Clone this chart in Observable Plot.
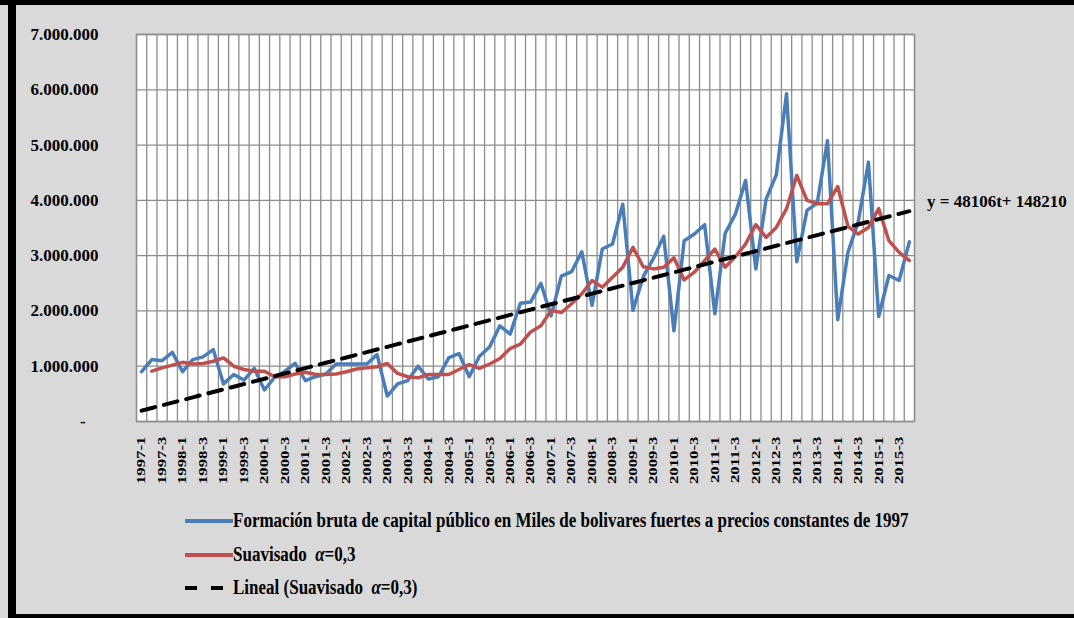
<!DOCTYPE html>
<html>
<head>
<meta charset="utf-8">
<script src="https://cdn.jsdelivr.net/npm/d3@7"></script>
<script src="https://cdn.jsdelivr.net/npm/@observablehq/plot@0.6"></script>
<style>
  body { margin: 0; background: #d9d9d9; }
  #wrap { position: relative; width: 1074px; height: 618px; overflow: hidden; background: #d9d9d9;
          font-family: "Liberation Serif", "Times New Roman", serif; font-weight: bold; color: #000; }
  #chart { position: absolute; left: 0; top: 0; }
  .bar { position: absolute; background: #000; }
  .leg { position: absolute; left: 185px; height: 20px; display: flex; align-items: center; white-space: pre; }
  .leg svg { flex: none; }
  .leg span { font-size: 17px; display: inline-block; white-space: pre; transform: scaleY(1.25); transform-origin: 50% 50%; }
  #eq { position: absolute; left: 927px; top: 192px; font-size: 17px; line-height: 20px; white-space: pre; }
</style>
</head>
<body>
<div id="wrap">
  <div id="chart"></div>
  <div class="leg" style="top:511px"><svg width="48" height="8"><line x1="0" y1="4" x2="48" y2="4" stroke="#4a7ebb" stroke-width="4"/></svg><span id="l1"></span></div>
  <div class="leg" style="top:545px"><svg width="48" height="8"><line x1="0" y1="4" x2="48" y2="4" stroke="#c0504d" stroke-width="4"/></svg><span id="l2"></span></div>
  <div class="leg" style="top:578px"><svg width="48" height="8"><line x1="0" y1="4" x2="48" y2="4" stroke="#000" stroke-width="4" stroke-dasharray="12,14"/></svg><span id="l3"></span></div>
  <div id="eq"></div>
  <div class="bar" style="left:0;top:0;width:1074px;height:5px"></div>
  <div class="bar" style="left:8px;top:0;width:8px;height:618px"></div>
  <div class="bar" style="left:8px;top:614px;width:1066px;height:4px"></div>
</div>
<script>
// Categories: quarters 1997-1 .. 2015-4
const years = d3.range(1997, 2016);
const quarters = years.flatMap(y => [1, 2, 3, 4].map(q => `${y}-${q}`));

// Formación bruta de capital público (millones de Bs.F. de 1997)
const formacion = [
  0.90, 1.12, 1.10, 1.25, 0.90, 1.12, 1.17, 1.30, 0.68, 0.85,
  0.75, 0.96, 0.57, 0.80, 0.91, 1.05, 0.74, 0.81, 0.86, 1.04,
  1.04, 1.04, 1.04, 1.21, 0.46, 0.68, 0.74, 1.00, 0.77, 0.81,
  1.15, 1.23, 0.81, 1.18, 1.35, 1.73, 1.58, 2.14, 2.16, 2.50,
  1.91, 2.63, 2.71, 3.07, 2.10, 3.12, 3.21, 3.93, 2.01, 2.62,
  2.95, 3.35, 1.64, 3.27, 3.39, 3.56, 1.95, 3.40, 3.75, 4.36,
  2.76, 4.02, 4.46, 5.93, 2.89, 3.82, 3.95, 5.08, 1.84, 3.06,
  3.61, 4.69, 1.90, 2.64, 2.55, 3.25
];

// Suavisado α=0,3 (millones)
const suavisado = [
  null, 0.91, 0.97, 1.02, 1.07, 1.04, 1.05, 1.09, 1.15, 1.00,
  0.94, 0.91, 0.91, 0.81, 0.81, 0.86, 0.89, 0.85, 0.85, 0.86,
  0.90, 0.95, 0.97, 0.99, 1.05, 0.87, 0.81, 0.79, 0.85, 0.85,
  0.85, 0.94, 1.03, 0.96, 1.04, 1.14, 1.32, 1.40, 1.62, 1.73,
  2.01, 1.97, 2.13, 2.31, 2.55, 2.43, 2.61, 2.79, 3.15, 2.80,
  2.76, 2.79, 2.96, 2.56, 2.70, 2.91, 3.12, 2.79, 2.98, 3.21,
  3.56, 3.33, 3.51, 3.85, 4.45, 4.00, 3.94, 3.94, 4.25, 3.53,
  3.39, 3.51, 3.85, 3.27, 3.06, 2.91
];

// Linear trend y = 48106t + 148210
const trendSlope = 48106;
const trendIntercept = 148210;

const yTicks = [0, 1e6, 2e6, 3e6, 4e6, 5e6, 6e6, 7e6];
const yTickLabels = ["-\u00a0\u00a0\u00a0", "1.000.000", "2.000.000", "3.000.000", "4.000.000", "5.000.000", "6.000.000", "7.000.000"];
const xTickIdx = d3.range(0, quarters.length, 2);

const legendLabels = [
  "Formación bruta de capital público en Miles de bolivares fuertes a precios constantes de 1997",
  "Suavisado  <i>α</i>=0,3",
  "Lineal (Suavisado  <i>α</i>=0,3)"
];
const equationLabel = "y = 48106t+ 148210";

const rows = quarters.map((q, i) => ({
  i, q,
  f: formacion[i] * 1e6,
  s: suavisado[i] == null ? null : suavisado[i] * 1e6,
  t: trendSlope * (i + 1) + trendIntercept
}));

const grid = "#8c8c8c";
const plot = Plot.plot({
  width: 1074, height: 500,
  marginLeft: 136, marginRight: 160, marginTop: 34, marginBottom: 79,
  style: { background: "transparent", fontFamily: "'Liberation Serif', serif", fontWeight: "bold", color: "#000", overflow: "visible" },
  x: { type: "linear", domain: [-0.5, quarters.length - 0.5] },
  y: { domain: [0, 7e6] },
  marks: [
    Plot.frame({ fill: "white", stroke: "none" }),
    Plot.ruleY(yTicks, { stroke: grid, strokeWidth: 1.3 }),
    Plot.ruleX(d3.range(quarters.length + 1).map(k => k - 0.5), { stroke: grid, strokeWidth: 1.3 }),
    Plot.frame({ stroke: grid, strokeWidth: 1.3 }),
    Plot.axisY({ ticks: yTicks, tickFormat: d => yTickLabels[yTicks.indexOf(d)], tickSize: 0, tickPadding: 38, fontSize: 17, fontWeight: "bold", label: null }),
    Plot.axisX({ ticks: xTickIdx, tickFormat: d => quarters[d], tickSize: 0, tickRotate: -90, tickPadding: 15, fontSize: 12, fontWeight: "bold", label: null }),
    Plot.line(rows, { x: "i", y: "f", stroke: "#4a7ebb", strokeWidth: 3.5 }),
    Plot.line(rows.filter(d => d.s != null), { x: "i", y: "s", stroke: "#c0504d", strokeWidth: 3.5 }),
    Plot.line(rows, { x: "i", y: "t", stroke: "#000", strokeWidth: 4, strokeDasharray: "14,9" })
  ]
});
document.getElementById("chart").appendChild(plot);

// stretch rotated x labels along their length
d3.select(plot).selectAll('g[aria-label="x-axis tick label"] text').each(function () {
  const t = this.getAttribute("transform") || "";
  this.setAttribute("transform", t + " scale(1.4,1)");
});

document.getElementById("l1").textContent = legendLabels[0];
document.getElementById("l2").innerHTML = legendLabels[1];
document.getElementById("l3").innerHTML = legendLabels[2];
document.getElementById("eq").textContent = equationLabel;
</script>
</body>
</html>
